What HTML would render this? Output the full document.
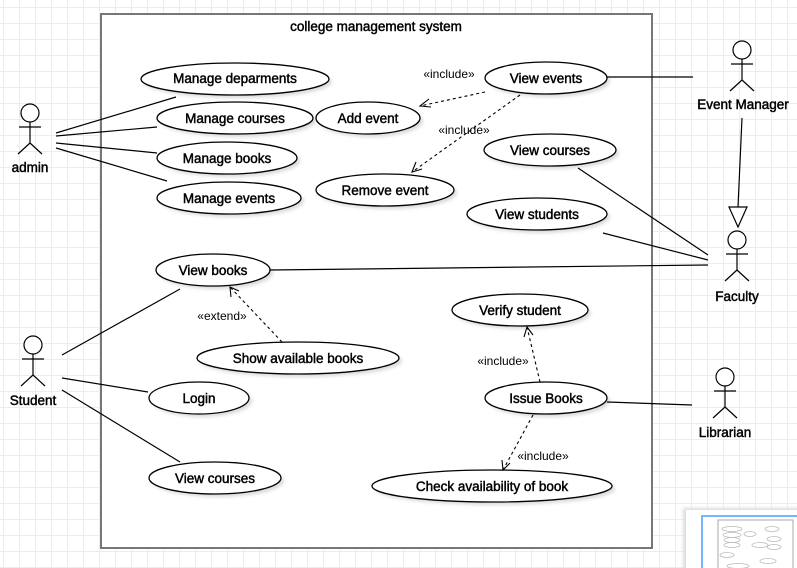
<!DOCTYPE html>
<html><head><meta charset="utf-8"><style>
html,body{margin:0;padding:0;}
body{width:797px;height:568px;overflow:hidden;background:#fff;
background-image:linear-gradient(#ececec 1px,transparent 1px),linear-gradient(90deg,#ececec 1px,transparent 1px);
background-size:16px 16px;background-position:3px 7px;}
svg{position:absolute;left:0;top:0;}
text{font-family:"Liberation Sans",sans-serif;font-size:13.5px;fill:#000;stroke:#000;stroke-width:0.45px;}
.s{font-size:12px;stroke-width:0;}
</style></head><body>
<svg width="797" height="568" viewBox="0 0 797 568">
<defs><filter id="sh" x="-20%" y="-20%" width="150%" height="170%"><feGaussianBlur stdDeviation="1.5"/></filter></defs>
<rect x="101" y="14" width="551" height="534" fill="#fff" stroke="#777" stroke-width="2"/>
<text x="376" y="31" text-anchor="middle">college management system</text>
<g fill="#ccc" filter="url(#sh)" opacity="0.7">
<ellipse cx="238" cy="82" rx="94" ry="16"/><ellipse cx="238" cy="121" rx="78" ry="16"/>
<ellipse cx="230" cy="161" rx="70" ry="16"/><ellipse cx="232" cy="201" rx="72" ry="16"/>
<ellipse cx="371" cy="121" rx="52" ry="16"/><ellipse cx="388" cy="193" rx="69" ry="16"/>
<ellipse cx="549" cy="81" rx="61" ry="16"/><ellipse cx="553" cy="153" rx="66" ry="16"/>
<ellipse cx="540" cy="217" rx="70" ry="16"/><ellipse cx="216" cy="273" rx="57" ry="16"/>
<ellipse cx="301" cy="361" rx="101" ry="16"/><ellipse cx="202" cy="401" rx="50" ry="16"/>
<ellipse cx="218" cy="481" rx="66" ry="16"/><ellipse cx="523" cy="313" rx="68" ry="16"/>
<ellipse cx="549" cy="401" rx="61" ry="16"/><ellipse cx="495" cy="489" rx="120" ry="16"/>
</g>
<g fill="#fff" stroke="#000" stroke-width="1.3">
<ellipse cx="235" cy="79" rx="94" ry="16"/><ellipse cx="235" cy="118" rx="78" ry="16"/>
<ellipse cx="227" cy="158" rx="70" ry="16"/><ellipse cx="229" cy="198" rx="72" ry="16"/>
<ellipse cx="368" cy="118" rx="52" ry="16"/><ellipse cx="385" cy="190" rx="69" ry="16"/>
<ellipse cx="546" cy="78" rx="61" ry="16"/><ellipse cx="550" cy="150" rx="66" ry="16"/>
<ellipse cx="537" cy="214" rx="70" ry="16"/><ellipse cx="213" cy="270" rx="57" ry="16"/>
<ellipse cx="298" cy="358" rx="101" ry="16"/><ellipse cx="199" cy="398" rx="50" ry="16"/>
<ellipse cx="215" cy="478" rx="66" ry="16"/><ellipse cx="520" cy="310" rx="68" ry="16"/>
<ellipse cx="546" cy="398" rx="61" ry="16"/><ellipse cx="492" cy="486" rx="120" ry="16"/>
</g>
<g text-anchor="middle">
<text x="235" y="83">Manage deparments</text><text x="235" y="123">Manage courses</text>
<text x="227" y="163">Manage books</text><text x="229" y="203">Manage events</text>
<text x="368" y="123">Add event</text><text x="385" y="195">Remove event</text>
<text x="546" y="83">View events</text><text x="550" y="155">View courses</text>
<text x="537" y="219">View students</text><text x="213" y="275">View books</text>
<text x="298" y="363">Show available books</text><text x="199" y="403">Login</text>
<text x="215" y="483">View courses</text><text x="520" y="315">Verify student</text>
<text x="546" y="403">Issue Books</text><text x="492" y="491">Check availability of book</text>
</g>
<g stroke="#000" stroke-width="1.2" fill="none">
<line x1="56" y1="133" x2="176" y2="97"/><line x1="56" y1="136" x2="157" y2="127"/>
<line x1="56" y1="143" x2="157" y2="153"/><line x1="56" y1="148" x2="167" y2="181"/>
<line x1="607" y1="77" x2="693" y2="77"/>
<line x1="742" y1="118" x2="738" y2="207"/>
<polygon points="729,207 747,207 738,227" fill="#fff"/>
<line x1="578" y1="168" x2="708" y2="255"/><line x1="603" y1="233" x2="708" y2="260"/>
<line x1="270" y1="270" x2="708" y2="265"/>
<line x1="62" y1="355" x2="180" y2="289"/><line x1="62" y1="378" x2="148" y2="392"/>
<line x1="62" y1="390" x2="180" y2="462"/>
<line x1="607" y1="402" x2="692" y2="405"/>
</g>
<g stroke="#000" stroke-width="1.1" fill="none" stroke-dasharray="3,3">
<line x1="485" y1="92" x2="420" y2="106"/><line x1="520" y1="95" x2="412" y2="172"/>
<line x1="282" y1="342" x2="230" y2="287"/><line x1="540" y1="382" x2="527" y2="327"/>
<line x1="533" y1="415" x2="503" y2="470"/>
</g>
<g stroke="#000" stroke-width="1.1" fill="none">
<polyline points="429,99 420,106 431,107"/>
<polyline points="416,162 412,172 422,169"/>
<polyline points="231,297 230,287 239,291"/>
<polyline points="524,337 527,327 533,335"/>
<polyline points="502,460 503,470 510,463"/>
</g>
<g text-anchor="middle">
<text x="449" y="78" class="s">«include»</text><text x="464" y="134" class="s">«include»</text>
<text x="222" y="320" class="s">«extend»</text><text x="503" y="365" class="s">«include»</text>
<text x="543" y="460" class="s">«include»</text>
</g>
<g stroke="#000" stroke-width="1.2" fill="#fff">
<g transform="translate(30,113)"><circle r="9"/><line x1="0" y1="9" x2="0" y2="30"/><line x1="-11" y1="14" x2="11" y2="14"/><line x1="0" y1="30" x2="-12" y2="41"/><line x1="0" y1="30" x2="12" y2="41"/></g>
<g transform="translate(742,50)"><circle r="9"/><line x1="0" y1="9" x2="0" y2="30"/><line x1="-11" y1="14" x2="11" y2="14"/><line x1="0" y1="30" x2="-12" y2="41"/><line x1="0" y1="30" x2="12" y2="41"/></g>
<g transform="translate(737,240)"><circle r="9"/><line x1="0" y1="9" x2="0" y2="30"/><line x1="-11" y1="14" x2="11" y2="14"/><line x1="0" y1="30" x2="-12" y2="41"/><line x1="0" y1="30" x2="12" y2="41"/></g>
<g transform="translate(33,345)"><circle r="9"/><line x1="0" y1="9" x2="0" y2="30"/><line x1="-11" y1="14" x2="11" y2="14"/><line x1="0" y1="30" x2="-12" y2="41"/><line x1="0" y1="30" x2="12" y2="41"/></g>
<g transform="translate(725,377)"><circle r="9"/><line x1="0" y1="9" x2="0" y2="30"/><line x1="-11" y1="14" x2="11" y2="14"/><line x1="0" y1="30" x2="-12" y2="41"/><line x1="0" y1="30" x2="12" y2="41"/></g>
</g>
<g text-anchor="middle">
<text x="30" y="172">admin</text><text x="743" y="109">Event Manager</text>
<text x="737" y="301">Faculty</text><text x="33" y="405">Student</text>
<text x="725" y="437">Librarian</text>
</g>
<rect x="683" y="508" width="120" height="70" fill="#ddd" filter="url(#sh)"/>
<rect x="686" y="510" width="115" height="62" fill="#fff"/>
<rect x="702" y="516" width="100" height="60" fill="#fff" stroke="#4a9eff" stroke-width="1.5"/>
<rect x="718" y="520" width="75" height="50" fill="#fff" stroke="#aaa" stroke-width="1"/>
<g fill="none" stroke="#bbb" stroke-width="0.8">
<ellipse cx="732" cy="529" rx="10" ry="2.5"/><ellipse cx="732" cy="535" rx="9" ry="2.5"/><ellipse cx="732" cy="540" rx="8" ry="2.5"/><ellipse cx="732" cy="545" rx="8" ry="2.5"/>
<ellipse cx="750" cy="534" rx="6" ry="2.5"/><ellipse cx="760" cy="545" rx="8" ry="2.5"/><ellipse cx="772" cy="529" rx="7" ry="2.5"/><ellipse cx="774" cy="539" rx="7" ry="2.5"/><ellipse cx="774" cy="547" rx="7" ry="2.5"/><ellipse cx="727" cy="555" rx="7" ry="2.5"/><ellipse cx="738" cy="566" rx="11" ry="2.5"/><ellipse cx="768" cy="561" rx="8" ry="2.5"/>
</g>
</svg>
</body></html>
